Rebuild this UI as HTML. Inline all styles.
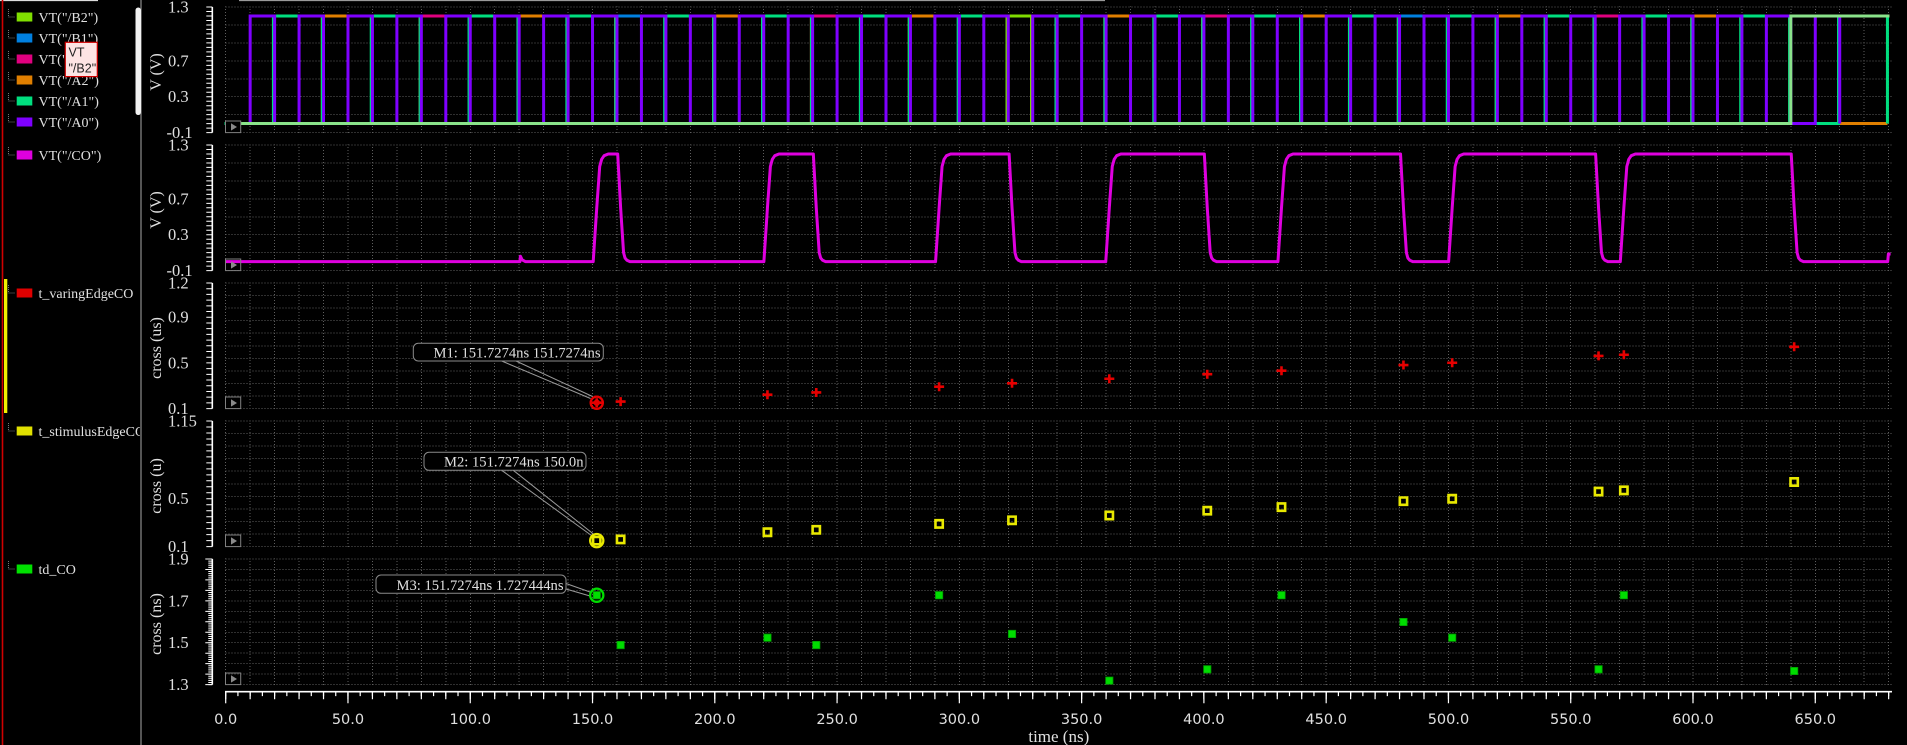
<!DOCTYPE html>
<html><head><meta charset="utf-8">
<style>
html,body{margin:0;padding:0;background:#000;}
svg{display:block;}
text{font-family:"Liberation Serif",serif;fill:#e0e0e0;}
</style></head><body>
<svg width="1907" height="745" viewBox="0 0 1907 745" xmlns="http://www.w3.org/2000/svg">
<rect width="1907" height="745" fill="#000"/>
<defs>
<clipPath id="pc">
<rect x="225" y="6.4" width="1667" height="126.8"/>
<rect x="225" y="144.4" width="1667" height="126.8"/>
<rect x="225" y="282.4" width="1667" height="126.8"/>
<rect x="225" y="420.4" width="1667" height="126.8"/>
<rect x="225" y="558.4" width="1667" height="126.8"/>
</clipPath>
<clipPath id="lc"><rect x="0" y="0" width="140" height="745"/></clipPath>
</defs>

<!-- left legend panel -->
<path d="M0 0.5H98" stroke="#dddddd" stroke-width="1.2"/>
<path d="M2.5 0V745" stroke="#d00000" stroke-width="1.6"/>
<rect x="4" y="279" width="3.3" height="134" fill="#f0f000"/>
<path d="M141 0V745" stroke="#555555" stroke-width="2"/>
<rect x="135.5" y="7.5" width="5.5" height="107.5" rx="2.7" fill="#f2f2f2"/>
<g stroke="#777" stroke-width="1" stroke-dasharray="1 1" fill="none">
<path d="M8.5 9V17H15M8.5 30V38H15M8.5 51V59H15M8.5 72V80H15M8.5 93V101H15M8.5 114V122H15M8.5 147V155H15M8.5 285V293H15M8.5 423V431H15M8.5 561V569H15"/>
</g>
<g clip-path="url(#lc)" font-size="14">
<rect x="16.7" y="12.5" width="15.6" height="9" fill="#80df00"/><text x="38.5" y="21.8">VT("/B2")</text>
<rect x="16.7" y="33.5" width="15.6" height="9" fill="#0080e0"/><text x="38.5" y="42.8">VT("/B1")</text>
<rect x="16.7" y="54.5" width="15.6" height="9" fill="#e0007f"/><text x="38.5" y="63.8">VT("/B0")</text>
<rect x="16.7" y="75.5" width="15.6" height="9" fill="#e07f00"/><text x="38.5" y="84.8">VT("/A2")</text>
<rect x="16.7" y="96.5" width="15.6" height="9" fill="#00df7f"/><text x="38.5" y="105.8">VT("/A1")</text>
<rect x="16.7" y="117.5" width="15.6" height="9" fill="#7f00ff"/><text x="38.5" y="126.8">VT("/A0")</text>
<rect x="16.7" y="150.5" width="15.6" height="9" fill="#df00df"/><text x="38.5" y="159.8">VT("/CO")</text>
<rect x="16.7" y="288.5" width="15.6" height="9" fill="#e00000"/><text x="38.5" y="297.8">t_varingEdgeCO</text>
<rect x="16.7" y="426.5" width="15.6" height="9" fill="#e0e000"/><text x="38.5" y="435.8">t_stimulusEdgeCO</text>
<rect x="16.7" y="564.5" width="15.6" height="9" fill="#00e000"/><text x="38.5" y="573.8">td_CO</text>
</g>
<!-- tooltip -->
<rect x="65.3" y="42.3" width="32" height="34.3" fill="#fde4e4" stroke="#d00000" stroke-width="1.2"/>
<text x="68.5" y="56.5" font-size="12.5" style="font-family:'Liberation Sans',sans-serif;fill:#222">VT</text>
<text x="68.5" y="72.5" font-size="12.5" style="font-family:'Liberation Sans',sans-serif;fill:#222">"/B2"</text>

<!-- top gray bar -->
<path d="M239 0.5H1105" stroke="#9a9a9a" stroke-width="1.2"/>

<!-- grid -->
<g clip-path="url(#pc)" stroke="#5e5e5e" stroke-width="1" stroke-dasharray="1 2" fill="none" shape-rendering="crispEdges">
<path d="M225.7 0V745M250.16 0V745M274.61 0V745M299.07 0V745M323.52 0V745M347.98 0V745M372.43 0V745M396.89 0V745M421.34 0V745M445.8 0V745M470.25 0V745M494.71 0V745M519.16 0V745M543.62 0V745M568.07 0V745M592.53 0V745M616.98 0V745M641.44 0V745M665.89 0V745M690.35 0V745M714.8 0V745M739.26 0V745M763.71 0V745M788.17 0V745M812.62 0V745M837.08 0V745M861.53 0V745M885.99 0V745M910.44 0V745M934.9 0V745M959.35 0V745M983.81 0V745M1008.26 0V745M1032.72 0V745M1057.17 0V745M1081.63 0V745M1106.08 0V745M1130.54 0V745M1154.99 0V745M1179.45 0V745M1203.9 0V745M1228.36 0V745M1252.81 0V745M1277.27 0V745M1301.72 0V745M1326.18 0V745M1350.63 0V745M1375.09 0V745M1399.54 0V745M1424 0V745M1448.45 0V745M1472.91 0V745M1497.36 0V745M1521.82 0V745M1546.27 0V745M1570.73 0V745M1595.18 0V745M1619.64 0V745M1644.09 0V745M1668.55 0V745M1693 0V745M1717.46 0V745M1741.91 0V745M1766.37 0V745M1790.82 0V745M1815.28 0V745M1839.73 0V745M1864.19 0V745M1888.64 0V745"/>
<path d="M225.7 7H1892M225.7 24.94H1892M225.7 42.89H1892M225.7 60.83H1892M225.7 78.77H1892M225.7 96.71H1892M225.7 114.66H1892M225.7 132.6H1892
M225.7 145H1892M225.7 162.94H1892M225.7 180.89H1892M225.7 198.83H1892M225.7 216.77H1892M225.7 234.71H1892M225.7 252.66H1892M225.7 270.6H1892
M225.7 283H1892M225.7 295.56H1892M225.7 308.12H1892M225.7 320.68H1892M225.7 333.24H1892M225.7 345.8H1892M225.7 358.36H1892M225.7 370.92H1892M225.7 383.48H1892M225.7 396.04H1892M225.7 408.6H1892
M225.7 421H1892M225.7 433.56H1892M225.7 446.12H1892M225.7 458.68H1892M225.7 471.24H1892M225.7 483.8H1892M225.7 496.36H1892M225.7 508.92H1892M225.7 521.48H1892M225.7 534.04H1892M225.7 546.6H1892
M225.7 559H1892M225.7 569.47H1892M225.7 579.93H1892M225.7 590.4H1892M225.7 600.87H1892M225.7 611.33H1892M225.7 621.8H1892M225.7 632.27H1892M225.7 642.73H1892M225.7 653.2H1892M225.7 663.67H1892M225.7 674.13H1892M225.7 684.6H1892"/>
</g>

<!-- y axes -->
<g stroke="#ffffff" fill="none">
<path d="M212.3 7V132.6M212.3 145V270.6M212.3 283V408.6M212.3 421V546.6M212.3 559V684.6" stroke-width="1.6"/>
<line x1="209.3" y1="6.5" x2="209.3" y2="133.2" stroke-width="6" stroke-dasharray="1 3.486"/>
<line x1="209.3" y1="144.5" x2="209.3" y2="271.2" stroke-width="6" stroke-dasharray="1 3.486"/>
<line x1="209.3" y1="282.5" x2="209.3" y2="409.2" stroke-width="6" stroke-dasharray="1 4.709"/>
<line x1="209.3" y1="420.5" x2="209.3" y2="547.2" stroke-width="6" stroke-dasharray="1 4.981"/>
<line x1="210.3" y1="558.5" x2="210.3" y2="685.2" stroke-width="4" stroke-dasharray="1 1.093"/>
<line x1="208.8" y1="558.5" x2="208.8" y2="685.2" stroke-width="7" stroke-dasharray="1 9.467"/>
</g>
<g font-size="16.5">
<text x="168" y="12.5">1.3</text><text x="168" y="66.3">0.7</text><text x="168" y="102.2">0.3</text><text x="166.5" y="138.1">-0.1</text>
<text x="168" y="150.5">1.3</text><text x="168" y="204.3">0.7</text><text x="168" y="240.2">0.3</text><text x="166.5" y="276.1">-0.1</text>
<text x="168" y="288.5">1.2</text><text x="168" y="322.7">0.9</text><text x="168" y="368.4">0.5</text><text x="168" y="414.1">0.1</text>
<text x="168" y="426.5">1.15</text><text x="168" y="504.2">0.5</text><text x="168" y="552.1">0.1</text>
<text x="168" y="564.5">1.9</text><text x="168" y="606.4">1.7</text><text x="168" y="648.2">1.5</text><text x="168" y="690.1">1.3</text>
</g>
<g font-size="16" text-anchor="middle">
<text transform="translate(161,72) rotate(-90)">V (V)</text>
<text transform="translate(161,210) rotate(-90)">V (V)</text>
<text transform="translate(161,348) rotate(-90)">cross (us)</text>
<text transform="translate(161,486) rotate(-90)">cross (u)</text>
<text transform="translate(161,624) rotate(-90)">cross (ns)</text>
</g>

<!-- x axis -->
<g stroke="#ffffff" fill="none">
<path d="M225 691.7H1892" stroke-width="1.6"/>
<line x1="225.1" y1="693.9" x2="1892" y2="693.9" stroke-width="4.4" stroke-dasharray="1.2 11.0275"/>
<line x1="225.1" y1="695.5" x2="1892" y2="695.5" stroke-width="7.6" stroke-dasharray="1.2 23.255"/>
<line x1="225.1" y1="697.5" x2="1892" y2="697.5" stroke-width="11.6" stroke-dasharray="1.2 121.075"/>
</g>
<g font-size="14.5" text-anchor="middle" style="font-family:'DejaVu Sans','Liberation Sans',sans-serif">
<text x="225.7" y="724" style="font-family:'DejaVu Sans','Liberation Sans',sans-serif">0.0</text>
<text x="347.98" y="724" style="font-family:'DejaVu Sans','Liberation Sans',sans-serif">50.0</text>
<text x="470.25" y="724" style="font-family:'DejaVu Sans','Liberation Sans',sans-serif">100.0</text>
<text x="592.53" y="724" style="font-family:'DejaVu Sans','Liberation Sans',sans-serif">150.0</text>
<text x="714.8" y="724" style="font-family:'DejaVu Sans','Liberation Sans',sans-serif">200.0</text>
<text x="837.08" y="724" style="font-family:'DejaVu Sans','Liberation Sans',sans-serif">250.0</text>
<text x="959.35" y="724" style="font-family:'DejaVu Sans','Liberation Sans',sans-serif">300.0</text>
<text x="1081.63" y="724" style="font-family:'DejaVu Sans','Liberation Sans',sans-serif">350.0</text>
<text x="1203.9" y="724" style="font-family:'DejaVu Sans','Liberation Sans',sans-serif">400.0</text>
<text x="1326.18" y="724" style="font-family:'DejaVu Sans','Liberation Sans',sans-serif">450.0</text>
<text x="1448.45" y="724" style="font-family:'DejaVu Sans','Liberation Sans',sans-serif">500.0</text>
<text x="1570.73" y="724" style="font-family:'DejaVu Sans','Liberation Sans',sans-serif">550.0</text>
<text x="1693" y="724" style="font-family:'DejaVu Sans','Liberation Sans',sans-serif">600.0</text>
<text x="1815.28" y="724" style="font-family:'DejaVu Sans','Liberation Sans',sans-serif">650.0</text>
</g>
<text x="1058.8" y="742" font-size="17" text-anchor="middle">time (ns)</text>

<!-- panel 1 digital signals -->
<g fill="none" stroke-width="3" stroke-linejoin="miter">
<g transform="translate(-1.2,0)">
<path stroke="#0080e0" d="M225.7,123.5h391.28V16h391.28V123.5h391.28V16h391.28V123.5h97.82"/>
<path stroke="#e0007f" d="M225.7,123.5h195.64V16h195.64V123.5h195.64V16h195.64V123.5h195.64V16h195.64V123.5h195.64V16h195.64V123.5h97.82"/>
<path stroke="#e07f00" d="M225.7,123.5h97.82V16h97.82V123.5h97.82V16h97.82V123.5h97.82V16h97.82V123.5h97.82V16h97.82V123.5h97.82V16h97.82V123.5h97.82V16h97.82V123.5h97.82V16h97.82V123.5h97.82V16h97.82V123.5h97.82"/>
<path stroke="#00df7f" d="M225.7,123.5h48.91V16h48.91V123.5h48.91V16h48.91V123.5h48.91V16h48.91V123.5h48.91V16h48.91V123.5h48.91V16h48.91V123.5h48.91V16h48.91V123.5h48.91V16h48.91V123.5h48.91V16h48.91V123.5h48.91V16h48.91V123.5h48.91V16h48.91V123.5h48.91V16h48.91V123.5h48.91V16h48.91V123.5h48.91V16h48.91V123.5h48.91V16h48.91V123.5h48.91V16h48.91V123.5h48.91V16h48.91V123.5h48.91V16h48.91V123.5"/>
<path stroke="#80dc00" d="M1008.26,123.5V16H1032.72V123.5"/>
</g>
<path stroke="#7f00ff" d="M225.7,123.5h24.455V16h24.455V123.5h24.455V16h24.455V123.5h24.455V16h24.455V123.5h24.455V16h24.455V123.5h24.455V16h24.455V123.5h24.455V16h24.455V123.5h24.455V16h24.455V123.5h24.455V16h24.455V123.5h24.455V16h24.455V123.5h24.455V16h24.455V123.5h24.455V16h24.455V123.5h24.455V16h24.455V123.5h24.455V16h24.455V123.5h24.455V16h24.455V123.5h24.455V16h24.455V123.5h24.455V16h24.455V123.5h24.455V16h24.455V123.5h24.455V16h24.455V123.5h24.455V16h24.455V123.5h24.455V16h24.455V123.5h24.455V16h24.455V123.5h24.455V16h24.455V123.5h24.455V16h24.455V123.5h24.455V16h24.455V123.5h24.455V16h24.455V123.5h24.455V16h24.455V123.5h24.455V16h24.455V123.5h24.455V16h24.455V123.5h24.455V16h24.455V123.5h24.455V16h24.455V123.5h24.455V16h24.455V123.5h24.455V16h24.455V123.5h24.455V16h24.455V123.5V16"/>
<path stroke="#8ae28a" d="M225.7,123.5H1790.82V16H1889.5"/>
</g>

<!-- panel 2 CO -->
<path fill="none" stroke="#df00df" stroke-width="3" stroke-linejoin="round" d="M225.7,261.6 L519.9,261.6 L520.4,256.2 L522.1,259.8 L525.3,261.6 L593.2,261.6 L596.75,207.8 L599.69,166.5 L601.64,159.3 L604.09,155.7 L608.24,154 L617.69,154 L620.62,207.8 L623.56,252.6 L625.02,258 L626.98,260.3 L629.91,261.6 L763.89,261.6 L767.44,207.8 L770.38,166.5 L772.33,159.3 L774.78,155.7 L778.93,154 L813.33,154 L816.26,207.8 L819.2,252.6 L820.66,258 L822.62,260.3 L825.55,261.6 L935.57,261.6 L939.12,207.8 L942.06,166.5 L944.01,159.3 L946.46,155.7 L950.61,154 L1009.1,154 L1012.03,207.8 L1014.97,252.6 L1016.43,258 L1018.39,260.3 L1021.32,261.6 L1105.76,261.6 L1109.31,207.8 L1112.25,166.5 L1114.2,159.3 L1116.65,155.7 L1120.8,154 L1204.33,154 L1207.26,207.8 L1210.2,252.6 L1211.66,258 L1213.62,260.3 L1216.55,261.6 L1277.94,261.6 L1281.49,207.8 L1284.43,166.5 L1286.38,159.3 L1288.83,155.7 L1292.98,154 L1400.52,154 L1403.45,207.8 L1406.39,252.6 L1407.85,258 L1409.81,260.3 L1412.74,261.6 L1448.63,261.6 L1452.18,207.8 L1455.12,166.5 L1457.07,159.3 L1459.52,155.7 L1463.67,154 L1595.61,154 L1598.54,207.8 L1601.48,252.6 L1602.94,258 L1604.9,260.3 L1607.83,261.6 L1620.31,261.6 L1623.86,207.8 L1626.8,166.5 L1628.75,159.3 L1631.2,155.7 L1635.35,154 L1791.23,154 L1794.16,207.8 L1797.1,252.6 L1798.56,258 L1800.52,260.3 L1803.45,261.6 L1887.7,261.6 L1888.4,254 L1890.6,254"/>

<!-- panel 3 red crosses -->
<path fill="none" stroke="#e60000" stroke-width="2.6" d="M591.75 402.69h10M596.75 398.19v9M615.62 401.58h10M620.62 397.08v9M762.44 394.72h10M767.44 390.22v9M811.26 392.45h10M816.26 387.95v9M934.12 386.71h10M939.12 382.21v9M1007.03 383.3h10M1012.03 378.8v9M1104.31 378.76h10M1109.31 374.26v9M1202.26 374.19h10M1207.26 369.69v9M1276.49 370.72h10M1281.49 366.22v9M1398.45 365.03h10M1403.45 360.53v9M1447.18 362.75h10M1452.18 358.25v9M1593.54 355.92h10M1598.54 351.42v9M1618.86 354.74h10M1623.86 350.24v9M1789.16 346.79h10M1794.16 342.29v9"/>

<!-- panel 4 yellow squares -->
<path fill="none" stroke="#e8e800" stroke-width="2.6" d="M593.1 536.97h7.3v7.3h-7.3zM616.97 535.77h7.3v7.3h-7.3zM763.79 528.6h7.3v7.3h-7.3zM812.61 526.2h7.3v7.3h-7.3zM935.47 520.22h7.3v7.3h-7.3zM1008.38 516.63h7.3v7.3h-7.3zM1105.66 511.85h7.3v7.3h-7.3zM1203.61 507.06h7.3v7.3h-7.3zM1277.84 503.48h7.3v7.3h-7.3zM1399.8 497.49h7.3v7.3h-7.3zM1448.53 495.1h7.3v7.3h-7.3zM1594.89 487.92h7.3v7.3h-7.3zM1620.21 486.73h7.3v7.3h-7.3zM1790.51 478.36h7.3v7.3h-7.3z"/>

<!-- panel 5 green squares -->
<path fill="#00dd00" stroke="#009a00" stroke-width="0.8" d="M593.1 591.57h7.3v7.3h-7.3zM616.97 641.39h7.3v7.3h-7.3zM763.79 634.06h7.3v7.3h-7.3zM812.61 641.39h7.3v7.3h-7.3zM935.47 591.57h7.3v7.3h-7.3zM1008.38 630.29h7.3v7.3h-7.3zM1105.66 676.97h7.3v7.3h-7.3zM1203.61 665.67h7.3v7.3h-7.3zM1277.84 591.57h7.3v7.3h-7.3zM1399.8 618.36h7.3v7.3h-7.3zM1448.53 634.06h7.3v7.3h-7.3zM1594.89 665.67h7.3v7.3h-7.3zM1620.21 591.57h7.3v7.3h-7.3zM1790.51 667.34h7.3v7.3h-7.3z"/>

<!-- play buttons -->
<g>
<rect x="225.5" y="121" width="15.2" height="11.6" fill="#000" stroke="#808080" stroke-width="1"/>
<path d="M231 123.3L231 130.6L237 126.95Z" fill="#8a8a8a"/>
<rect x="225.5" y="259" width="15.2" height="11.6" fill="none" stroke="#808080" stroke-width="1"/>
<path d="M231 261.3L231 268.6L237 264.95Z" fill="#8a8a8a"/>
<rect x="225.5" y="397" width="15.2" height="11.6" fill="none" stroke="#808080" stroke-width="1"/>
<path d="M231 399.3L231 406.6L237 402.95Z" fill="#8a8a8a"/>
<rect x="225.5" y="535" width="15.2" height="11.6" fill="none" stroke="#808080" stroke-width="1"/>
<path d="M231 537.3L231 544.6L237 540.95Z" fill="#8a8a8a"/>
<rect x="225.5" y="673" width="15.2" height="11.6" fill="none" stroke="#808080" stroke-width="1"/>
<path d="M231 675.3L231 682.6L237 678.95Z" fill="#8a8a8a"/>
</g>

<!-- markers M1 M2 M3 -->
<g stroke="#9a9a9a" stroke-width="1" fill="none">
<path d="M501.7 361L590.5 398.5M516 361L592.5 396.5"/>
<path d="M501.7 470.3L591.5 535.5M513.3 470.3L594 534.5"/>
<path d="M566 583.5L590 592M566 589L590 596"/>
</g>
<circle cx="596.75" cy="402.69" r="6.1" fill="none" stroke="#e60000" stroke-width="2.3"/>
<circle cx="596.75" cy="402.69" r="3.2" fill="#e60000"/>
<circle cx="596.75" cy="540.62" r="6.6" fill="none" stroke="#e8e800" stroke-width="2.3"/>
<circle cx="596.75" cy="595.22" r="6.6" fill="none" stroke="#00dd00" stroke-width="2.3"/>
<g fill="#000" stroke="#8a8a8a" stroke-width="1">
<rect x="413.3" y="343.3" width="190" height="17.7" rx="5"/>
<rect x="424" y="452.3" width="162" height="18" rx="5"/>
<rect x="376" y="575" width="190" height="18.3" rx="5"/>
</g>
<g font-size="14.6" text-anchor="end">
<text x="600.5" y="357.7">M1: 151.7274ns 151.7274ns</text>
<text x="583.5" y="466.7">M2: 151.7274ns 150.0n</text>
<text x="563.5" y="590">M3: 151.7274ns 1.727444ns</text>
</g>
</svg>
</body></html>
